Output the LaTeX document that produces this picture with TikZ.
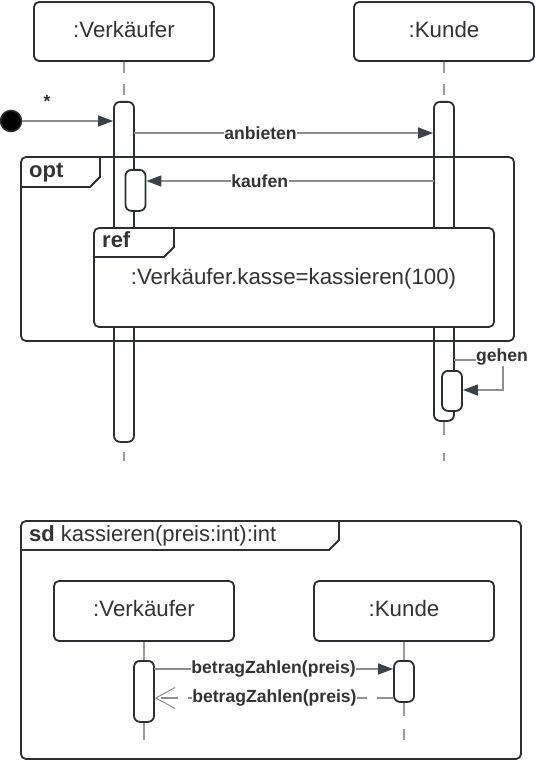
\documentclass[tikz,border=0pt]{standalone}
\usepackage{fontspec}
\setmainfont{Liberation Sans}
\usetikzlibrary{arrows.meta}
\definecolor{ln}{HTML}{2B2E33}
\definecolor{gr}{HTML}{9C9C9C}
\definecolor{mg}{HTML}{8E8E8E}
\definecolor{tx}{HTML}{333333}
\definecolor{ah}{HTML}{3C424B}
\begin{document}
\begin{tikzpicture}[x=1pt,y=-1pt,
  head/.style={draw=ln,line width=1.8pt,rounded corners=5pt,minimum width=180pt,minimum height=59pt,inner sep=0pt,fill=white,text=tx,text height=15.5pt,text depth=4pt,font=\fontsize{22.3}{24}\selectfont},
  actbox/.style={draw=ln,line width=1.8pt,rounded corners=6pt,minimum width=20pt,inner sep=0pt,fill=white,anchor=north},
  lifeline/.style={draw=gr,line width=2pt},
  msg/.style={draw=mg,line width=1.5pt,-{Triangle[length=15pt,width=11pt,fill=ah,color=ah]}},
  retmsg/.style={draw=mg,line width=1.3pt,dash pattern=on 17pt off 10pt,-{Straight Barb[length=19pt,width=21pt,line width=1pt,color=mg]}},
  lbl/.style={fill=white,inner xsep=0.5pt,inner ysep=1pt,text=tx,font=\fontsize{17.6}{20}\selectfont\bfseries},
  frame/.style={draw=ln,line width=1.8pt,rounded corners=5pt},
  tab/.style={draw=ln,line width=1.8pt},
  ftitle/.style={inner sep=0pt,anchor=base west,text=tx,font=\fontsize{22}{24}\selectfont}
]
\useasboundingbox (0,0) rectangle (535,762);

% ---------- top diagram ----------
\node[head] (hV) at (124,31.5) {:Verkäufer};
\node[head] (hK) at (444,31.5) {:Kunde};

\node[actbox,minimum height=340pt] (aV) at (124,101) {};
\node[actbox,minimum height=319pt] (aK) at (444,101) {};

\coordinate (eV) at (124,461);
\coordinate (eK) at (444,461);
\draw[lifeline,dash pattern=on 11pt off 11pt] (hV.south) -- (aV.north);
\draw[lifeline,dash pattern=on 11pt off 11pt] (hK.south) -- (aK.north);
\draw[lifeline,dash pattern=on 11pt off 11pt,dash phase=13pt] (aV.south) -- (eV);
\draw[lifeline,dash pattern=on 13pt off 18pt] (aK.south) -- (eK);

% opt frame
\draw[frame] (21,157) rectangle (514,341);
\draw[tab] (21,187) -- (90,187) -- (100,177) -- (100,157);
\node[ftitle] (optl) at (29,177) {\bfseries opt};

% nested activations
\node[actbox,minimum height=41pt] (aV2) at (135.5,169) {};
\node[actbox,minimum height=40pt] (aK2) at (452,370) {};

% ref frame
\draw[frame,fill=white] (94,228) rectangle (494,327);
\draw[tab] (94,257) -- (164,257) -- (174,247) -- (174,228);
\node[ftitle] (refl) at (102,247) {\bfseries ref};
\node[inner sep=0pt,anchor=base,text=tx,font=\fontsize{22.3}{24}\selectfont] (reft) at (293.5,284) {:Verkäufer.kasse=kassieren(100)};

% initial state
\node[circle,draw=ln,fill=black,line width=1.5pt,minimum size=21pt,inner sep=0pt] (init) at (11,121) {};
\draw[msg] (init) -- (init -| aV.west);
\node[text=tx,font=\fontsize{17.6}{20}\selectfont\bfseries,inner sep=0pt] (star) at (47,101) {*};

% messages
\coordinate (m1) at (134,133);
\draw[msg] (m1) -- node[lbl,pos=0.423] {anbieten} (m1 -| aK.west);
\coordinate (m2) at (434,181);
\draw[msg] (m2) -- node[lbl,pos=0.606] {kaufen} (m2 -| aV2.east);
\coordinate (g1) at (454,360);
\coordinate (g2) at (503,360);
\coordinate (g3) at (503,390);
\draw[msg] (g1) -- (g2) -- (g3) -- (g3 -| aK2.east);
\node[lbl] (gl) at (502,357) {gehen};

% ---------- bottom diagram ----------
\draw[frame] (21,521) rectangle (521,759);
\draw[tab] (21,550) -- (329,550) -- (339,540) -- (339,521);
\node[ftitle] (sdl) at (29,541) {\textbf{sd} kassieren(preis:int):int};

\node[head,minimum height=60pt] (hV3) at (144,611) {:Verkäufer};
\node[head,minimum height=60pt] (hK3) at (404,611) {:Kunde};
\node[actbox,minimum height=61pt] (aV3) at (144,660) {};
\node[actbox,minimum height=41pt] (aK3) at (404,660) {};
\coordinate (eV3) at (144,740);
\coordinate (eK3) at (404,740);
\draw[lifeline] (hV3.south) -- (aV3.north);
\draw[lifeline] (hK3.south) -- (aK3.north);
\draw[lifeline] (aV3.south) -- (eV3);
\draw[lifeline,dash pattern=on 13pt off 13pt] (aK3.south) -- (eK3);

\coordinate (b1) at (154,669);
\draw[msg] (b1) -- node[lbl,pos=0.5] {betragZahlen(preis)} (b1 -| aK3.west);
\coordinate (b2) at (394,698);
\draw[retmsg] (b2) -- node[lbl,pos=0.5] {betragZahlen(preis)} (b2 -| aV3.east);
\end{tikzpicture}
\end{document}
